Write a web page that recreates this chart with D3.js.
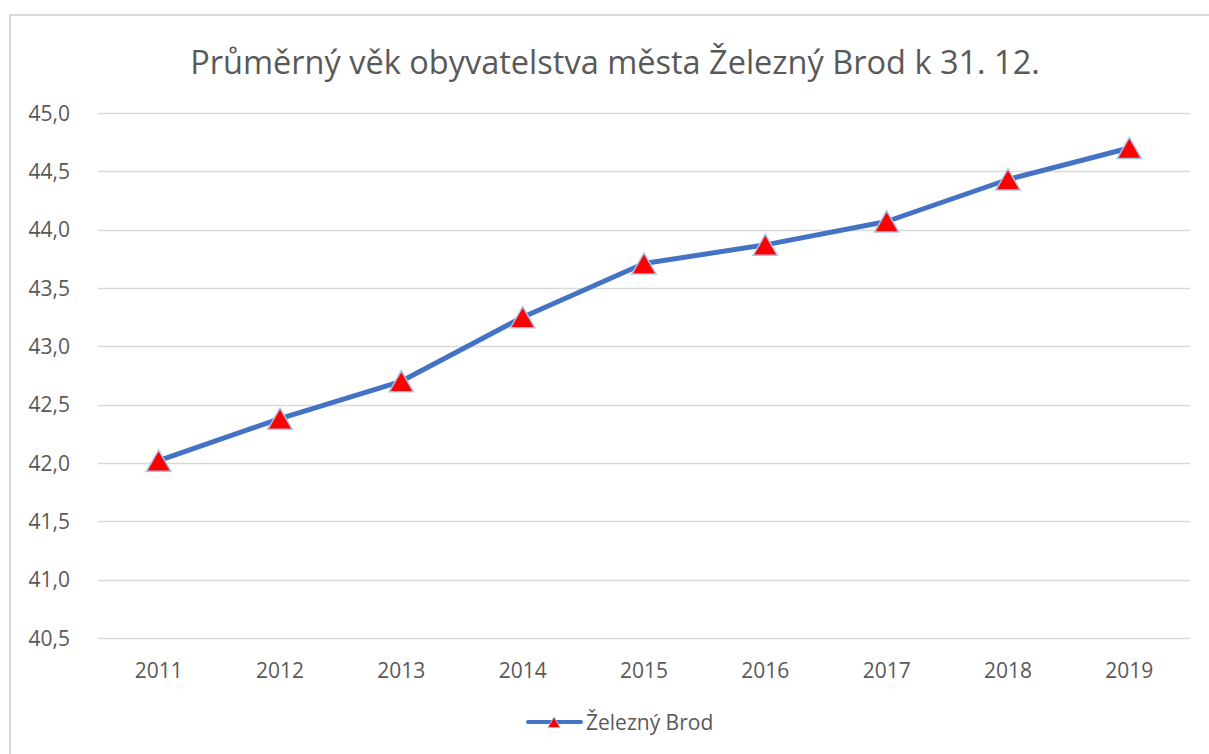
<!DOCTYPE html>
<html>
<head>
<meta charset="utf-8">
<script src="https://cdn.jsdelivr.net/npm/d3@7"></script>
<style>
  body { margin: 0; background: #fff; }
  text { font-family: "Open Sans", "Noto Sans", sans-serif; fill: #595959; }
</style>
</head>
<body>
<svg id="chart" width="1209" height="754"></svg>
<script>
var years = ["2011", "2012", "2013", "2014", "2015", "2016", "2017", "2018", "2019"];
var avgAge = [42.02, 42.38, 42.70, 43.25, 43.71, 43.87, 44.07, 44.43, 44.70];
var yTicks = [40.5, 41.0, 41.5, 42.0, 42.5, 43.0, 43.5, 44.0, 44.5, 45.0];
var chartTitle = "Průměrný věk obyvatelstva města Železný Brod k 31. 12.";
var seriesName = "Železný Brod";

var svg = d3.select("#chart");

// chart area border (only top and left visible)
svg.append("path")
  .attr("d", "M10,1209 L10,15 L1209,15")
  .attr("fill", "none")
  .attr("stroke", "#d9d9d9")
  .attr("stroke-width", 2);

var x = d3.scaleBand().domain(years).range([98, 1190]);
var y = d3.scaleLinear().domain([40.5, 45]).range([638, 113]);

// gridlines
svg.append("g")
  .selectAll("line")
  .data(yTicks)
  .enter().append("line")
  .attr("x1", 98).attr("x2", 1190)
  .attr("y1", d => Math.round(y(d)) + 0.5)
  .attr("y2", d => Math.round(y(d)) + 0.5)
  .attr("stroke", "#d9d9d9")
  .attr("stroke-width", 1.5);

var fmt = d => d.toFixed(1).replace(".", ",");

// y labels
svg.append("g")
  .selectAll("text")
  .data(yTicks)
  .enter().append("text")
  .attr("x", 70)
  .attr("y", d => y(d) + 7.5)
  .attr("text-anchor", "end")
  .attr("font-size", 21)
  .text(fmt);

// x labels
svg.append("g")
  .selectAll("text")
  .data(years)
  .enter().append("text")
  .attr("x", d => x(d) + x.bandwidth() / 2)
  .attr("y", 678)
  .attr("text-anchor", "middle")
  .attr("font-size", 21)
  .text(d => d);

var line = d3.line()
  .x((d, i) => x(years[i]) + x.bandwidth() / 2)
  .y(d => y(d));

svg.append("path")
  .datum(avgAge)
  .attr("d", line)
  .attr("fill", "none")
  .attr("stroke", "#4472c4")
  .attr("stroke-width", 5)
  .attr("stroke-linejoin", "round");

var tri = d3.symbol().type(d3.symbolTriangle).size(255);

// d3 triangles sit on their centroid; shift so the bounding box is centred on the point
svg.append("g")
  .selectAll("path")
  .data(avgAge)
  .enter().append("path")
  .attr("d", tri)
  .attr("transform", (d, i) => "translate(" + (x(years[i]) + x.bandwidth() / 2) + "," + (y(d) + 3.5) + ")")
  .attr("fill", "#ff0000")
  .attr("stroke", "#a9c1e6")
  .attr("stroke-width", 1.5);

// title, fitted to the reference width
var title = svg.append("text")
  .attr("x", 615)
  .attr("y", 74)
  .attr("text-anchor", "middle")
  .attr("font-size", 30)
  .text(chartTitle);
var tw = title.node().getComputedTextLength();
title.attr("font-size", 30 * 850 / tw);

// legend
var leg = svg.append("g");
leg.append("line")
  .attr("x1", 528).attr("x2", 581)
  .attr("y1", 722).attr("y2", 722)
  .attr("stroke", "#4472c4")
  .attr("stroke-width", 4)
  .attr("stroke-linecap", "round");
leg.append("path")
  .attr("d", d3.symbol().type(d3.symbolTriangle).size(65))
  .attr("transform", "translate(554,724)")
  .attr("fill", "#ff0000")
  .attr("stroke", "#a9c1e6")
  .attr("stroke-width", 1);
leg.append("text")
  .attr("x", 586)
  .attr("y", 730)
  .attr("font-size", 21)
  .text(seriesName);
</script>
</body>
</html>
